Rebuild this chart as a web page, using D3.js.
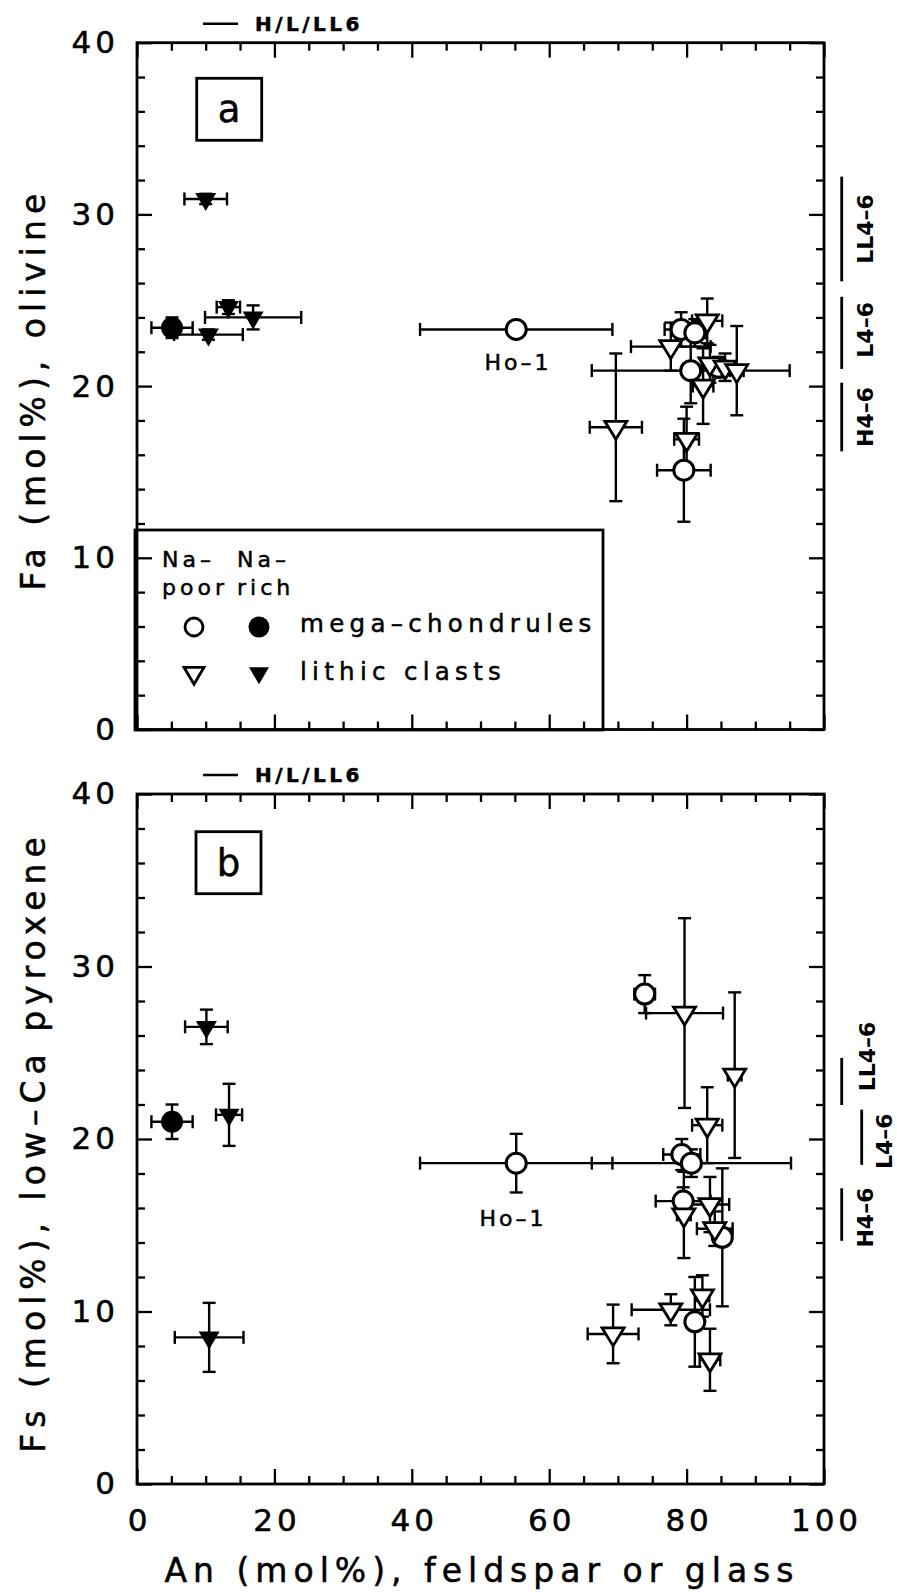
<!DOCTYPE html>
<html><head><meta charset="utf-8">
<script src="https://cdn.jsdelivr.net/npm/d3@7"></script>
<style>body{margin:0;background:#fff} text{stroke:#000;stroke-width:0.5px}</style>
</head><body>
<svg id="c" width="897" height="1593" xmlns="http://www.w3.org/2000/svg"></svg>
<script>
// ---------------- DATA ----------------
// tick values
const xTicks = [0, 20, 40, 60, 80, 100];
const xMinorTicks = [5,10,15,25,30,35,45,50,55,65,70,75,85,90,95];
const yTicks = [0, 10, 20, 30, 40];
const yMinorTicks = [2,4,6,8,12,14,16,18,22,24,26,28,32,34,36,38];

// Each row: [An mol%, An error, Fa/Fs mol%, Fa/Fs error]
// Panel a: Fa in olivine
const aPoorChondrules = [
  [55.2, 14.0, 23.3, 0],
  [79.2, 2.4, 23.3, 1.0],
  [81.2, 1.5, 23.1, 0.8],
  [80.6, 14.4, 20.9, 1.9],
  [84.6, 1.2, 21.1, 0.6],
  [79.6, 3.9, 15.1, 3.0]
];
const aPoorClasts = [
  [69.7, 3.8, 17.6, 4.3],
  [77.7, 5.8, 22.3, 1.4],
  [83.0, 2.2, 23.8, 1.3],
  [82.4, 1.5, 20.0, 2.2],
  [83.4, 1.2, 21.3, 1.1],
  [85.6, 1.2, 21.1, 0.8],
  [87.3, 1.0, 20.9, 2.6],
  [80.0, 1.8, 16.9, 1.9]
];
const aRichChondrules = [
  [5.1, 3.0, 23.4, 0.6]
];
const aRichClasts = [
  [10.0, 3.1, 30.9, 0.3],
  [13.3, 1.7, 24.6, 0.4],
  [16.9, 7.0, 24.0, 0.7],
  [10.4, 5.0, 23.0, 0.3]
];
// Panel b: Fs in low-Ca pyroxene
const bPoorChondrules = [
  [55.2, 14.0, 18.6, 1.7],
  [73.9, 1.5, 28.4, 1.1],
  [79.3, 2.7, 19.1, 0.9],
  [80.7, 14.5, 18.6, 0.8],
  [79.5, 4.0, 16.4, 0.8],
  [85.2, 1.0, 14.3, 4.0],
  [81.2, 1.2, 9.4, 2.6]
];
const bPoorClasts = [
  [79.7, 5.6, 27.3, 5.5],
  [87.0, 1.0, 23.7, 4.8],
  [83.0, 2.2, 20.8, 2.2],
  [79.6, 1.0, 15.6, 2.5],
  [83.4, 2.8, 16.2, 1.6],
  [84.1, 2.6, 14.8, 1.0],
  [69.3, 3.7, 8.7, 1.7],
  [77.7, 5.7, 10.1, 0.9],
  [82.3, 1.0, 10.9, 1.2],
  [83.4, 1.5, 7.2, 1.8]
];
const bRichChondrules = [
  [5.1, 3.0, 21.0, 1.0]
];
const bRichClasts = [
  [10.1, 3.1, 26.5, 1.0],
  [13.4, 1.9, 21.4, 1.8],
  [10.5, 5.0, 8.5, 2.0]
];
// Equilibrated chondrite ranges (label, low, high)
const aRangeLabels = ["LL4–6", "L4–6", "H4–6"];
const aRangeLow = [26.1, 21.0, 16.2];
const aRangeHigh = [32.2, 25.2, 20.2];
const bRangeLabels = ["LL4–6", "L4–6", "H4–6"];
const bRangeLow = [21.97, 18.5, 14.1];
const bRangeHigh = [24.7, 21.7, 17.14];
// H/L/LL6 An range
const type6An = [9.6, 14.7];
const type6Label = "H/L/LL6";

// ---------------- LAYOUT ----------------
const FONT = "'DejaVu Sans', sans-serif";
const X0 = 137, X1 = 824;
const svg = d3.select("#c");
const x = d3.scaleLinear().domain([0, 100]).range([X0, X1]);

const panels = [
  {id: "a", top: 42.7, bottom: 729.5, poorC: aPoorChondrules, poorL: aPoorClasts, richC: aRichChondrules, richL: aRichClasts,
   rl: aRangeLabels, rlo: aRangeLow, rhi: aRangeHigh,
   rangeX: [841.7, 841.7, 841.7], labX: [873, 873, 873], labDy: [0, -3, 0],
   title: "Fa (mol%), olivine", ho: [518, 370], box: [196.7, 78.3], labelText: "a"},
  {id: "b", top: 794, bottom: 1484, poorC: bPoorChondrules, poorL: bPoorClasts, richC: bRichChondrules, richL: bRichClasts,
   rl: bRangeLabels, rlo: bRangeLow, rhi: bRangeHigh,
   rangeX: [841.7, 861.7, 841.7], labX: [875, 892, 873], labDy: [-25, 4, 3],
   title: "Fs (mol%), low–Ca pyroxene", ho: [513, 1226], box: [196, 831.7], labelText: "b"}
];

function triPath(w, h) {
  return `M${-w/2},${-h/3}L${w/2},${-h/3}L0,${2*h/3}Z`;
}

panels.forEach((p, pi) => {
  const y = d3.scaleLinear().domain([0, 40]).range([p.bottom, p.top]);
  const g = svg.append("g");

  // ticks on four sides
  const tickStyle = sel => {
    sel.select(".domain").remove();
    sel.selectAll(".tick line").attr("stroke", "#000").attr("stroke-width", 2.3);
  };
  g.append("g").attr("transform", `translate(${X0},0)`)
    .call(d3.axisLeft(y).tickValues(yMinorTicks).tickSize(-8).tickFormat("")).call(tickStyle);
  g.append("g").attr("transform", `translate(${X1},0)`)
    .call(d3.axisRight(y).tickValues(yMinorTicks).tickSize(-8).tickFormat("")).call(tickStyle);
  g.append("g").attr("transform", `translate(${X1},0)`)
    .call(d3.axisRight(y).tickValues(yTicks).tickSize(-15).tickFormat("")).call(tickStyle);
  const yl = g.append("g").attr("transform", `translate(${X0},0)`)
    .call(d3.axisLeft(y).tickValues(yTicks).tickSize(-15).tickPadding(18).tickFormat(d3.format("d"))).call(tickStyle);
  yl.attr("font-family", FONT).attr("font-size", 31);
  yl.selectAll("text").attr("fill", "#000").style("letter-spacing", "4px");

  g.append("g").attr("transform", `translate(0,${p.top})`)
    .call(d3.axisTop(x).tickValues(xMinorTicks).tickSize(-8).tickFormat("")).call(tickStyle);
  g.append("g").attr("transform", `translate(0,${p.top})`)
    .call(d3.axisTop(x).tickValues(xTicks).tickSize(-15).tickFormat("")).call(tickStyle);
  g.append("g").attr("transform", `translate(0,${p.bottom})`)
    .call(d3.axisBottom(x).tickValues(xMinorTicks).tickSize(-8).tickFormat("")).call(tickStyle);
  const xl = g.append("g").attr("transform", `translate(0,${p.bottom})`)
    .call(d3.axisBottom(x).tickValues(xTicks).tickSize(-15).tickPadding(25)
      .tickFormat(pi === 1 ? d3.format("d") : "")).call(tickStyle);
  xl.attr("font-family", FONT).attr("font-size", 31);
  xl.selectAll("text").attr("fill", "#000").attr("dx", 2).style("letter-spacing", "4px");

  // frame
  g.append("rect").attr("x", X0).attr("y", p.top).attr("width", X1 - X0).attr("height", p.bottom - p.top)
    .attr("fill", "none").attr("stroke", "#000").attr("stroke-width", 2.8);

  // y title
  g.append("text").attr("transform", `translate(45,${(p.top + p.bottom) / 2 + 3}) rotate(-90)`)
    .attr("text-anchor", "middle").attr("font-family", FONT).attr("font-size", 33)
    .style("letter-spacing", "6px").text(p.title);

  // panel label box
  g.append("rect").attr("x", p.box[0]).attr("y", p.box[1]).attr("width", 65).attr("height", 62)
    .attr("fill", "none").attr("stroke", "#000").attr("stroke-width", 2.8);
  g.append("text").attr("x", p.box[0] + 32.5).attr("y", p.box[1] + 31).attr("dy", "0.35em")
    .attr("text-anchor", "middle").attr("font-family", FONT).attr("font-size", 37).text(p.labelText);

  // H/L/LL6 marker
  g.append("line").attr("x1", x(type6An[0])).attr("x2", x(type6An[1]))
    .attr("y1", p.top - 19).attr("y2", p.top - 19).attr("stroke", "#000").attr("stroke-width", 2.5);
  g.append("text").attr("x", 255).attr("y", p.top - 12).attr("font-family", FONT).attr("font-weight", "bold")
    .attr("font-size", 20).style("letter-spacing", "3.5px").text(type6Label);

  // range bars
  p.rl.forEach((lab, i) => {
    g.append("line").attr("x1", p.rangeX[i]).attr("x2", p.rangeX[i])
      .attr("y1", y(p.rlo[i])).attr("y2", y(p.rhi[i])).attr("stroke", "#000").attr("stroke-width", 2.8);
    const cy = (y(p.rlo[i]) + y(p.rhi[i])) / 2 + p.labDy[i];
    g.append("text").attr("transform", `translate(${p.labX[i]},${cy}) rotate(-90)`)
      .attr("text-anchor", "middle").attr("font-family", FONT).attr("font-weight", "bold")
      .attr("font-size", 22).style("stroke-width", "0px").text(lab);
  });

  // error bars
  const all = [...p.poorC, ...p.poorL, ...p.richC, ...p.richL];
  const eb = g.append("g").attr("stroke", "#000").attr("stroke-width", 2.4).attr("fill", "none");
  const cap = 6.5;
  all.forEach(d => {
    const cx = x(d[0]), cy = y(d[2]);
    if (d[1] > 0) {
      const xa = x(d[0] - d[1]), xb = x(d[0] + d[1]);
      eb.append("line").attr("x1", xa).attr("x2", xb).attr("y1", cy).attr("y2", cy);
      eb.append("line").attr("x1", xa).attr("x2", xa).attr("y1", cy - cap).attr("y2", cy + cap);
      eb.append("line").attr("x1", xb).attr("x2", xb).attr("y1", cy - cap).attr("y2", cy + cap);
    }
    if (d[3] > 0) {
      const ya = y(d[2] - d[3]), yb = y(d[2] + d[3]);
      eb.append("line").attr("x1", cx).attr("x2", cx).attr("y1", ya).attr("y2", yb);
      eb.append("line").attr("x1", cx - cap).attr("x2", cx + cap).attr("y1", ya).attr("y2", ya);
      eb.append("line").attr("x1", cx - cap).attr("x2", cx + cap).attr("y1", yb).attr("y2", yb);
    }
  });

  // markers
  g.selectAll(".pc").data(p.poorC).join("circle")
    .attr("cx", d => x(d[0])).attr("cy", d => y(d[2])).attr("r", 10)
    .attr("fill", "#fff").attr("stroke", "#000").attr("stroke-width", 3);
  g.selectAll(".pl").data(p.poorL).join("path")
    .attr("transform", d => `translate(${x(d[0])},${y(d[2])})`).attr("d", triPath(22, 18))
    .attr("fill", "#fff").attr("stroke", "#000").attr("stroke-width", 2.8).attr("stroke-linejoin", "miter");
  g.selectAll(".rc").data(p.richC).join("circle")
    .attr("cx", d => x(d[0])).attr("cy", d => y(d[2])).attr("r", 11).attr("fill", "#000");
  g.selectAll(".rl").data(p.richL).join("path")
    .attr("transform", d => `translate(${x(d[0])},${y(d[2])})`).attr("d", triPath(21, 18)).attr("fill", "#000");

  // Ho-1 label
  g.append("text").attr("x", p.ho[0]).attr("y", p.ho[1]).attr("text-anchor", "middle")
    .attr("font-family", FONT).attr("font-size", 22).style("letter-spacing", "3px").text("Ho–1");
});

// legend (panel a)
const lg = svg.append("g").attr("font-family", FONT);
lg.append("rect").attr("x", 135).attr("y", 530).attr("width", 468).attr("height", 200)
  .attr("fill", "none").attr("stroke", "#000").attr("stroke-width", 2.8);
const legHead = [["Na–", "poor", 162], ["Na–", "rich", 237]];
legHead.forEach(h => {
  lg.append("text").attr("x", h[2]).attr("y", 567).attr("font-size", 22).style("letter-spacing", "4px").text(h[0]);
  lg.append("text").attr("x", h[2]).attr("y", 595).attr("font-size", 22).style("letter-spacing", "4px").text(h[1]);
});
lg.append("circle").attr("cx", 194).attr("cy", 627).attr("r", 9).attr("fill", "#fff").attr("stroke", "#000").attr("stroke-width", 2.8);
lg.append("circle").attr("cx", 259).attr("cy", 627).attr("r", 10.5).attr("fill", "#000");
lg.append("path").attr("transform", "translate(194,673)").attr("d", triPath(20, 17)).attr("fill", "#fff").attr("stroke", "#000").attr("stroke-width", 2.8);
lg.append("path").attr("transform", "translate(259,673)").attr("d", triPath(20, 17)).attr("fill", "#000");
lg.append("text").attr("x", 300).attr("y", 632).attr("font-size", 24.5).style("letter-spacing", "5.3px").text("mega–chondrules");
lg.append("text").attr("x", 300).attr("y", 680).attr("font-size", 24.5).style("letter-spacing", "5.3px").text("lithic clasts");

// x axis title
svg.append("text").attr("x", 482).attr("y", 1582).attr("text-anchor", "middle")
  .attr("font-family", FONT).attr("font-size", 33).style("letter-spacing", "6px")
  .text("An (mol%), feldspar or glass");
</script>
</body></html>
